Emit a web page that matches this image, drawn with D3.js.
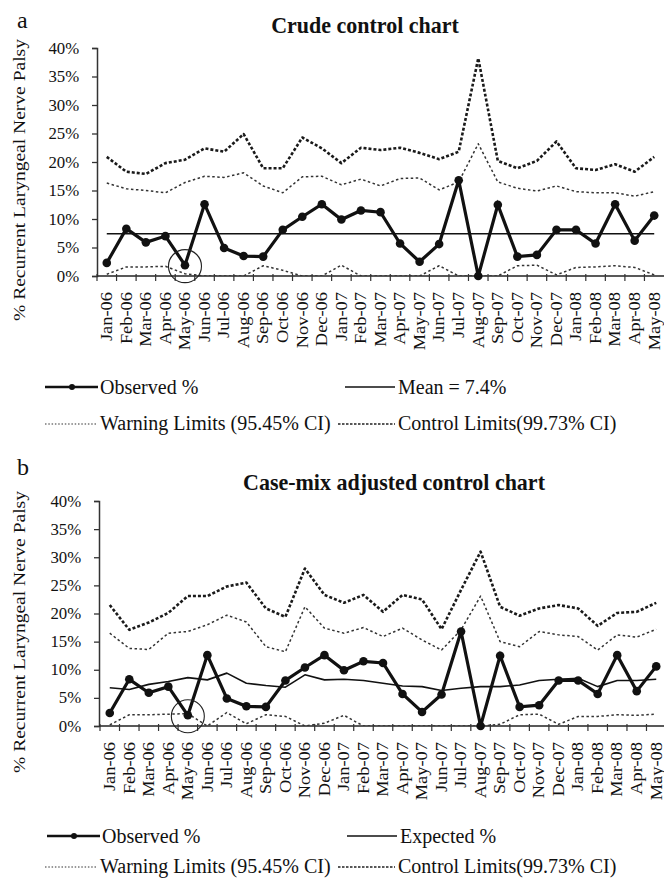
<!DOCTYPE html>
<html>
<head>
<meta charset="utf-8">
<script src="https://cdn.jsdelivr.net/npm/d3@7"></script>
<style>
  html, body { margin: 0; padding: 0; background: #fff; }
  svg { display: block; }
  text { font-family: "Liberation Serif", "DejaVu Serif", serif; fill: #111; }
</style>
</head>
<body>
<svg id="chart" width="664" height="881"></svg>
<script>
// ---------- DATA ----------
const months = ["Jan-06","Feb-06","Mar-06","Apr-06","May-06","Jun-06","Jul-06","Aug-06","Sep-06","Oct-06","Nov-06","Dec-06",
  "Jan-07","Feb-07","Mar-07","Apr-07","May-07","Jun-07","Jul-07","Aug-07","Sep-07","Oct-07","Nov-07","Dec-07",
  "Jan-08","Feb-08","Mar-08","Apr-08","May-08"];
const yTicks = [0, 5, 10, 15, 20, 25, 30, 35, 40];
const highlightMonth = "May-06";

// observed % (same in both panels)
const observedPct = [2.3, 8.3, 5.9, 7.0, 1.9, 12.6, 4.9, 3.5, 3.4, 8.1, 10.4, 12.6,
  9.9, 11.5, 11.2, 5.7, 2.5, 5.6, 16.8, 0.0, 12.5, 3.4, 3.7, 8.1, 8.1, 5.7, 12.6, 6.2, 10.6];

// panel a: crude control chart
const crudeMean = 7.4;
const crudeControlUpper = [20.9, 18.3, 17.9, 19.8, 20.4, 22.4, 21.8, 24.9, 18.9, 18.9, 24.3, 22.4,
  19.8, 22.5, 22.1, 22.5, 21.6, 20.5, 21.8, 38.2, 20.2, 18.9, 20.2, 23.6, 18.9, 18.6, 19.6, 18.3, 20.9];
const crudeWarningUpper = [16.3, 15.3, 15.0, 14.6, 16.4, 17.5, 17.3, 18.1, 15.8, 14.6, 17.4, 17.5,
  16.0, 17.0, 15.8, 17.1, 17.2, 15.1, 16.5, 23.2, 16.5, 15.4, 14.9, 15.8, 14.8, 14.6, 14.6, 14.0, 14.8];
const crudeWarningLower = [0.3, 1.6, 1.6, 1.7, 0.4, 0, 0, 0, 1.8, 1.0, 0, 0,
  1.9, 0, 0, 0, 0, 1.8, 0, 0, 0, 1.8, 1.9, 0.2, 1.5, 1.6, 1.8, 1.5, 0.2];

// panel b: case-mix adjusted control chart
const adjExpected = [6.8, 6.5, 7.4, 7.9, 8.6, 8.2, 9.4, 7.6, 7.2, 6.9, 9.1, 8.2,
  8.3, 8.1, 7.6, 7.1, 7.0, 6.3, 6.7, 7.0, 7.0, 7.3, 8.1, 8.3, 8.5, 7.0, 8.1, 8.1, 8.3];
const adjControlUpper = [21.5, 17.1, 18.4, 20.1, 23.1, 23.1, 24.8, 25.5, 20.9, 19.4, 28.0, 23.3,
  21.9, 23.3, 20.3, 23.3, 22.5, 17.2, 24.2, 31.0, 21.2, 19.6, 20.9, 21.5, 20.9, 17.8, 20.1, 20.3, 21.9];
const adjWarningUpper = [16.5, 13.8, 13.6, 16.5, 16.8, 18.0, 19.7, 18.5, 14.1, 13.2, 21.2, 17.4,
  16.5, 17.5, 15.9, 17.4, 15.3, 13.5, 17.1, 23.1, 15.0, 14.1, 16.8, 16.2, 15.9, 13.5, 16.2, 15.8, 17.2];
const adjWarningLower = [0.2, 2.0, 2.0, 2.1, 2.2, 0, 2.4, 0.4, 2.0, 1.7, 0, 0.5,
  1.9, 0, 0, 0, 0, 0, 0, 0, 0.3, 2.0, 2.1, 0.3, 1.7, 1.7, 2.0, 1.9, 2.1];

// ---------- DRAWING ----------
const svg = d3.select("#chart");

const panels = [
  {
    letter: "a", title: "Crude control chart",
    letterY: 28, titleX: 365, titleY: 33,
    left: 97, right: 664, top: 48, bottom: 276, axisRight: 664,
    lines: [
      { key: "ucl", values: crudeControlUpper, style: "control" },
      { key: "uwl", values: crudeWarningUpper, style: "warning" },
      { key: "lwl", values: crudeWarningLower, style: "warning" },
      { key: "mean", values: months.map(() => crudeMean), style: "centre" }
    ],
    legend: { y1: 387, y2: 423, centreLabel: "Mean = 7.4%" }
  },
  {
    letter: "b", title: "Case-mix adjusted control chart",
    letterY: 475, titleX: 394, titleY: 490,
    left: 100, right: 666, top: 501, bottom: 726, axisRight: 664,
    lines: [
      { key: "ucl", values: adjControlUpper, style: "control" },
      { key: "uwl", values: adjWarningUpper, style: "warning" },
      { key: "lwl", values: adjWarningLower, style: "warning" },
      { key: "exp", values: adjExpected, style: "centre" }
    ],
    legend: { y1: 836, y2: 866, centreLabel: "Expected %" }
  }
];

const styles = {
  control: { stroke: "#1a1a1a", width: 2.6, dash: "3,2" },
  warning: { stroke: "#333", width: 1.5, dash: "2.5,2.5" },
  centre:  { stroke: "#111", width: 1.6, dash: null }
};

panels.forEach((p, pi) => {
  const g = svg.append("g");
  const x = d3.scaleBand().domain(months).range([p.left, p.right]);
  const xc = m => x(m) + x.bandwidth() / 2;
  const y = d3.scaleLinear().domain([0, 40]).range([p.bottom, p.top]);
  const axisX = p.left - (pi === 0 ? 0 : 1);

  // panel letter + title
  g.append("text").attr("x", 17).attr("y", p.letterY)
    .attr("font-size", 24).text(p.letter);
  g.append("text").attr("x", p.titleX).attr("y", p.titleY)
    .attr("text-anchor", "middle").attr("font-size", 22).attr("font-weight", "bold")
    .attr("transform", `translate(0,${p.titleY}) scale(1,1.05) translate(0,${-p.titleY})`)
    .text(p.title);

  // y axis label
  const yMid = pi === 0 ? 180 : 632;
  g.append("text")
    .attr("transform", `translate(25,${yMid}) rotate(-90) scale(1.15,1)`)
    .attr("text-anchor", "middle").attr("font-size", 17)
    .text("% Recurrent Laryngeal Nerve Palsy");

  // y axis
  const yAxis = d3.axisLeft(y).tickValues(yTicks).tickSize(5).tickFormat(d => d + "%");
  const ya = g.append("g").attr("transform", `translate(${axisX},0)`).call(yAxis);
  ya.select(".domain").attr("stroke", "#333").attr("stroke-width", 1.5);
  ya.selectAll(".tick line").attr("stroke", "#333").attr("stroke-width", 1.3);
  ya.selectAll(".tick text").attr("font-family", "Liberation Serif, serif")
    .attr("font-size", 16).attr("fill", "#111").attr("x", -17)
    .attr("transform", "scale(1.05,1)");

  // x axis line + ticks at band boundaries
  g.append("line").attr("x1", axisX).attr("x2", p.axisRight)
    .attr("y1", y(0)).attr("y2", y(0)).attr("stroke", "#222").attr("stroke-width", 1.6);
  g.selectAll(".xt").data(months).enter().append("line")
    .attr("x1", d => x(d)).attr("x2", d => x(d))
    .attr("y1", y(0) - 2).attr("y2", y(0) + 5)
    .attr("stroke", "#333").attr("stroke-width", 1.2);
  g.selectAll(".xl").data(months).enter().append("text")
    .attr("transform", d => `translate(${xc(d)},${y(0) + 16}) rotate(-90) scale(1.15,1)`)
    .attr("text-anchor", "end").attr("dy", "0.33em").attr("font-size", 16)
    .text(d => d);

  // clip
  const clipId = "clip" + pi;
  svg.append("clipPath").attr("id", clipId).append("rect")
    .attr("x", p.left).attr("y", p.top - 5).attr("width", 700).attr("height", p.bottom - p.top + 5);

  const plot = g.append("g").attr("clip-path", `url(#${clipId})`);
  const straight = d3.line().x((d, i) => xc(months[i])).y(d => y(d));

  p.lines.forEach(l => {
    const s = styles[l.style];
    plot.append("path").datum(l.values)
      .attr("d", straight)
      .attr("fill", "none").attr("stroke", s.stroke).attr("stroke-width", s.width)
      .attr("stroke-linejoin", "round")
      .attr("stroke-dasharray", s.dash);
  });

  // observed
  g.append("path").datum(observedPct).attr("d", straight)
    .attr("fill", "none").attr("stroke", "#111").attr("stroke-width", 3.2)
    .attr("stroke-linejoin", "miter");
  g.selectAll(".obs").data(observedPct).enter().append("circle")
    .attr("cx", (d, i) => xc(months[i])).attr("cy", d => y(d)).attr("r", 4.3)
    .attr("fill", "#111");

  // highlight circle
  const hi = months.indexOf(highlightMonth);
  g.append("circle").attr("cx", xc(highlightMonth)).attr("cy", y(observedPct[hi]) + 1)
    .attr("r", 16.5).attr("fill", "none").attr("stroke", "#222").attr("stroke-width", 1.1);

  // legend
  const L = p.legend;
  const lg = g.append("g");
  const off = pi === 0 ? 0 : 2;
  // observed
  lg.append("line").attr("x1", 45 + off).attr("x2", 98 + off).attr("y1", L.y1).attr("y2", L.y1)
    .attr("stroke", "#111").attr("stroke-width", 2.6);
  lg.append("circle").attr("cx", 72 + off).attr("cy", L.y1).attr("r", 3).attr("fill", "#111");
  lg.append("text").attr("x", 100 + off).attr("y", L.y1 + 7).attr("font-size", 20).text("Observed %");
  // centre line
  lg.append("line").attr("x1", 345 + off).attr("x2", 395 + off).attr("y1", L.y1).attr("y2", L.y1)
    .attr("stroke", "#111").attr("stroke-width", 1.6);
  lg.append("text").attr("x", 398 + off).attr("y", L.y1 + 7).attr("font-size", 20).text(L.centreLabel);
  // warning
  lg.append("line").attr("x1", 45).attr("x2", 97).attr("y1", L.y2 + 1).attr("y2", L.y2 + 1)
    .attr("stroke", "#333").attr("stroke-width", 1.2).attr("stroke-dasharray", "1.5,1.8");
  lg.append("text").attr("x", 100).attr("y", L.y2 + 7).attr("font-size", 20).text("Warning Limits (95.45% CI)");
  // control
  lg.append("line").attr("x1", 338).attr("x2", 395).attr("y1", L.y2 + 1).attr("y2", L.y2 + 1)
    .attr("stroke", "#222").attr("stroke-width", 1.4).attr("stroke-dasharray", "2.5,1.5");
  lg.append("text").attr("x", 398).attr("y", L.y2 + 7).attr("font-size", 20).text("Control Limits(99.73% CI)");
});
</script>
</body>
</html>
